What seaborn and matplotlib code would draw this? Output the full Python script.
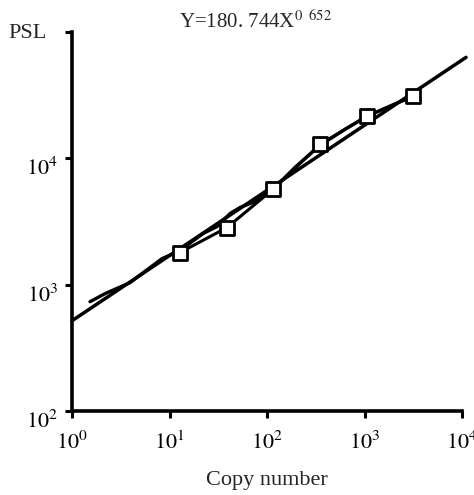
import matplotlib
matplotlib.use("Agg")
import matplotlib.pyplot as plt
import matplotlib.transforms as mtransforms
from matplotlib.ticker import FixedLocator, FixedFormatter, NullLocator
import seaborn as sns
import pandas as pd

# ---- data ----
copy_number = [12.8, 38.9, 115, 350, 1061, 3140]
psl = [1795, 2833, 5675, 12910, 21550, 31050]

fit_x = [1, 11000]
fit_y = [518, 63000]

curve_x = [1.53, 2.18, 3.94, 6.31, 8.38, 12.8, 22.1, 30.7, 41.8, 52.8, 71.8,
           115, 194, 350, 631, 1061, 1827, 3140]
curve_y = [733, 849, 1038, 1365, 1607, 1862, 2541, 2884, 3656, 4083, 4477,
           5675, 8490, 12680, 16980, 21550, 25880, 31050]

x_ticks = [1, 10, 100, 1000, 10000]
x_tick_labels = [r"$10^{0}$", r"$10^{1}$", r"$10^{2}$", r"$10^{3}$", r"$10^{4}$"]
y_ticks = [100, 1000, 10000, 100000]
y_tick_labels = [r"$10^{2}$", r"$10^{3}$", r"$10^{4}$", ""]

title_text = r"Y=180. 744X$^{0\ \ 652}$"
x_label = "Copy number"
y_label = "PSL"

# ---- style ----
sns.set_style("ticks")
plt.rcParams["font.family"] = ["Liberation Serif", "DejaVu Serif"]
plt.rcParams["mathtext.fontset"] = "stix"

fig = plt.figure(figsize=(4.74, 4.95), dpi=100)
ax = fig.add_axes([72 / 474, (495 - 411) / 495, (462 - 72) / 474, (411 - 32) / 495])
ax.set_xscale("log")
ax.set_yscale("log")

df_fit = pd.DataFrame({"x": fit_x, "y": fit_y})
df_curve = pd.DataFrame({"x": curve_x, "y": curve_y})
df_pts = pd.DataFrame({"x": copy_number, "y": psl})

sns.lineplot(data=df_fit, x="x", y="y", ax=ax, color="black", linewidth=2.5,
             sort=False, estimator=None, clip_on=False)
sns.lineplot(data=df_curve, x="x", y="y", ax=ax, color="black", linewidth=2.4,
             sort=False, estimator=None)
sns.lineplot(data=df_pts, x="x", y="y", ax=ax, color="black", linewidth=2.2,
             sort=False, estimator=None)
sns.scatterplot(data=df_pts, x="x", y="y", ax=ax, marker="s", s=95,
                facecolor="white", edgecolor="black", linewidth=2.0, zorder=5)

ax.set_xlim(1, 10000)
ax.set_ylim(100, 100000)

ax.xaxis.set_major_locator(FixedLocator(x_ticks))
ax.xaxis.set_major_formatter(FixedFormatter(x_tick_labels))
ax.yaxis.set_major_locator(FixedLocator(y_ticks))
ax.yaxis.set_major_formatter(FixedFormatter(y_tick_labels))
ax.xaxis.set_minor_locator(NullLocator())
ax.yaxis.set_minor_locator(NullLocator())

for s in ["top", "right"]:
    ax.spines[s].set_visible(False)
for s in ["left", "bottom"]:
    ax.spines[s].set_linewidth(2.6)
    ax.spines[s].set_color("black")

ax.tick_params(axis="both", which="major", direction="out", length=5, width=2.2,
               labelsize=16, colors="black", pad=5)
ax.tick_params(axis="x", pad=10)

offset_y = mtransforms.ScaledTranslation(0, -6 / 72, fig.dpi_scale_trans)
for lab in ax.get_yticklabels():
    lab.set_transform(lab.get_transform() + offset_y)

ax.set_xlabel(x_label, fontsize=16, labelpad=12)
ax.set_ylabel("")
fig.text(8 / 474, 1 - 33 / 495, y_label, fontsize=16, ha="left", va="center")
fig.text(256 / 474, 1 - 22 / 495, title_text, fontsize=15, ha="center", va="center")

fig.savefig("out.png", dpi=100)
